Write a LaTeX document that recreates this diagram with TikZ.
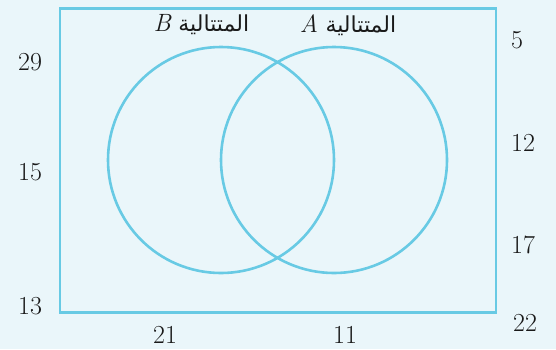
\documentclass[tikz,border=0pt]{standalone}
\usepackage{fontspec}
\newfontfamily\arabicfont[Script=Arabic]{DejaVu Sans}
\TeXXeTstate=1
\definecolor{bgblue}{RGB}{234,246,250}
\definecolor{linecyan}{RGB}{104,202,228}
\tikzset{
  num/.style={font=\fontsize{26}{30}\selectfont, inner sep=0pt, text=black!90},
  lab/.style={font=\fontsize{25}{30}\selectfont, inner sep=0pt, text=black!90},
  venn/.style={draw=linecyan, line width=2.6pt},
}
\begin{document}
\begin{tikzpicture}[x=1pt,y=-1pt]
\fill[bgblue] (0,0) rectangle (556,349);
\useasboundingbox (0,0) rectangle (556,349);
\node[venn, rectangle, minimum width=436pt, minimum height=304pt, inner sep=0pt, anchor=north west] (U) at (58.5,7) {};
\node[venn, circle, minimum size=226pt, inner sep=0pt] (B) at (221,160) {};
\node[venn, circle, minimum size=226pt, inner sep=0pt] (A) at (334,160) {};
\node[lab] (labB) at (201,25) {\beginR{\arabicfont\fontsize{22}{26}\selectfont المتتالية} \textit{B}\endR};
\node[lab] (labA) at (348,25) {\beginR{\arabicfont\fontsize{22}{26}\selectfont المتتالية} \textit{A}\endR};
\node[num] (n29) at (30,62) {29};
\node[num] (n15) at (30,172) {15};
\node[num] (n13) at (30,306) {13};
\node[num] (n21) at (165,335) {21};
\node[num] (n11) at (345,335) {11};
\node[num] (n22) at (525,323) {22};
\node[num] (n5) at (517,40) {5};
\node[num] (n12) at (523,143) {12};
\node[num] (n17) at (523,245) {17};
\end{tikzpicture}
\end{document}
